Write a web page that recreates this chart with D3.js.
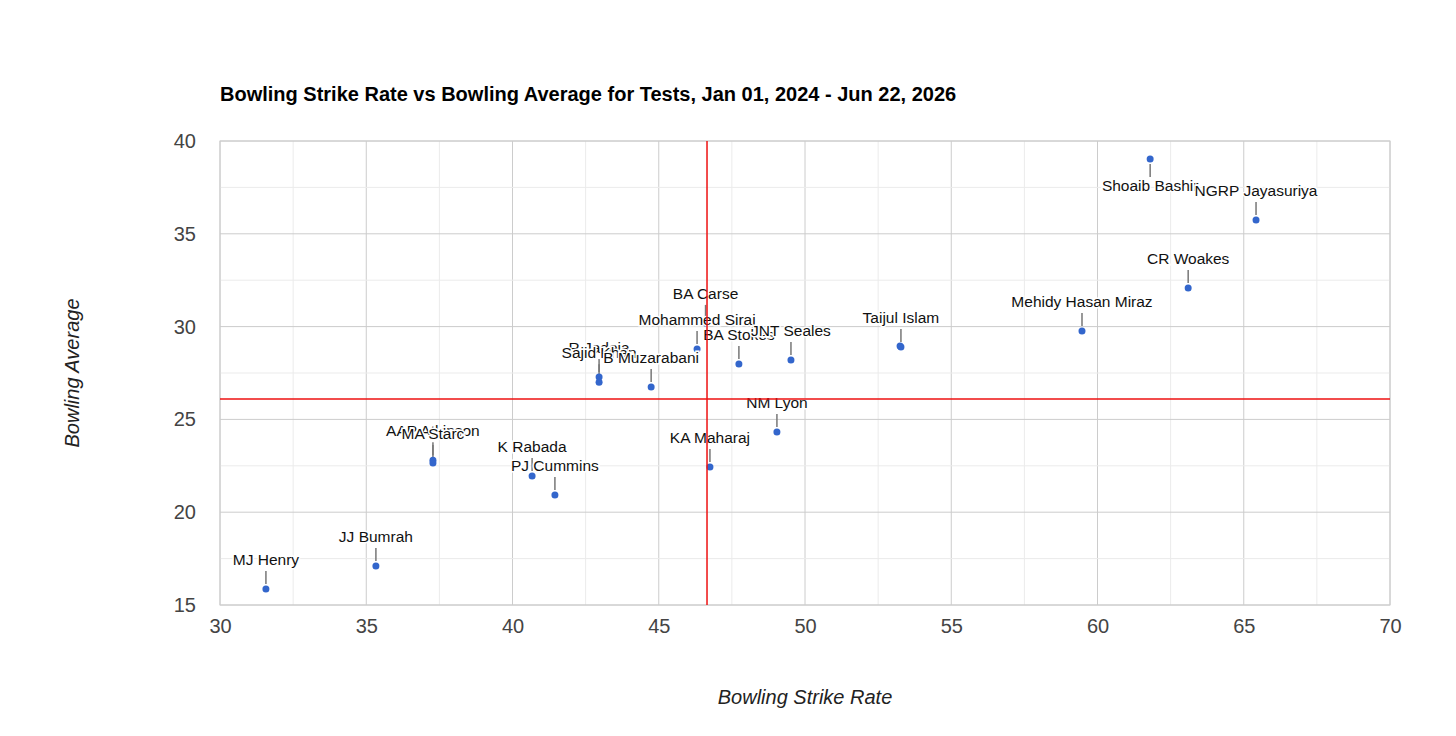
<!DOCTYPE html>
<html><head><meta charset="utf-8">
<script src="https://cdn.jsdelivr.net/npm/d3@7"></script>
<style>body{margin:0;background:#fff;font-family:Arial,"Liberation Sans",sans-serif}</style>
</head><body><svg id="chart" width="1456" height="736"></svg>
<script>
var players = ["MJ Henry","JJ Bumrah","AAP Atkinson","MA Starc","K Rabada","PJ Cummins","R Jadeja","Sajid Khan","B Muzarabani","BA Carse","Mohammed Siraj","BA Stokes","JNT Seales","KA Maharaj","NM Lyon","","Taijul Islam","Mehidy Hasan Miraz","CR Woakes","Shoaib Bashir","NGRP Jayasuriya"];
var strikeRate = [31.57,35.33,37.28,37.28,40.67,41.45,42.96,42.96,44.74,46.6,46.31,47.74,49.52,46.75,49.04,53.25,53.28,59.47,63.1,61.8,65.42];
var average = [15.86,17.1,22.8,22.65,21.95,20.93,27.28,27.0,26.75,30.2,28.79,27.98,28.2,22.43,24.32,28.95,28.9,29.76,32.08,39.03,35.74];
var meanSR = 46.65, meanAvg = 26.1;
var xTicks = [30,35,40,45,50,55,60,65,70];
var yTicks = [15,20,25,30,35,40];
var labelsBelow = ["Shoaib Bashir"];

var margin = {top:141, left:220, right:66, bottom:131};
var svg = d3.select("#chart");
var innerWidth = 1456 - margin.left - margin.right;
var innerHeight = 736 - margin.top - margin.bottom;

var x = d3.scaleLinear().domain([30,70]).range([0, innerWidth]);
var y = d3.scaleLinear().domain([15,40]).range([innerHeight, 0]);
var g = svg.append("g").attr("transform","translate("+margin.left+","+margin.top+")");

// minor grid
var minorX = d3.range(30,70.1,2.5), minorY = d3.range(15,40.1,2.5);
g.selectAll(".mx").data(minorX).enter().append("line")
  .attr("x1",d=>x(d)).attr("x2",d=>x(d)).attr("y1",0).attr("y2",innerHeight)
  .style("stroke", d => d%5==0 ? "#cccccc" : "#ebebeb").style("stroke-width",1);
g.selectAll(".my").data(minorY).enter().append("line")
  .attr("y1",d=>y(d)).attr("y2",d=>y(d)).attr("x1",0).attr("x2",innerWidth)
  .style("stroke", d => d%5==0 ? "#cccccc" : "#ebebeb").style("stroke-width",1);
g.append("rect").attr("width",innerWidth).attr("height",innerHeight)
  .style("fill","none").style("stroke","#cccccc");

g.append("g").attr("transform","translate(0,"+innerHeight+")")
  .call(d3.axisBottom(x).tickValues(xTicks).tickSize(0).tickPadding(14))
  .call(a=>a.select(".domain").remove())
  .selectAll("text").style("font-size","20px").style("fill","#444").style("font-family","Arial,'Liberation Sans'");
g.append("g")
  .call(d3.axisLeft(y).tickValues(yTicks).tickSize(0).tickPadding(24))
  .call(a=>a.select(".domain").remove())
  .selectAll("text").style("font-size","20px").style("fill","#444").style("font-family","Arial,'Liberation Sans'");

var pts = players.map((p,i)=>({name:p, sr:strikeRate[i], avg:average[i], below: labelsBelow.includes(p)}));

// leader lines
g.selectAll(".lead").data(pts.filter(d=>d.name)).enter().append("line")
  .attr("x1",d=>x(d.sr)).attr("x2",d=>x(d.sr))
  .attr("y1",d=>y(d.avg) + (d.below ? 5 : -5)).attr("y2",d=>y(d.avg) + (d.below ? 18 : -18))
  .style("stroke","#777").style("stroke-width",1.5);

g.selectAll(".pt").data(pts).enter().append("circle")
  .attr("cx",d=>x(d.sr)).attr("cy",d=>y(d.avg)).attr("r",3.5)
  .style("fill","#3366cc");

g.selectAll(".lbl").data(pts.filter(d=>d.name)).enter().append("text")
  .attr("x",d=>x(d.sr)).attr("y",d=>y(d.avg) + (d.below ? 32 : -24))
  .attr("text-anchor","middle")
  .style("font-size","15.5px").style("fill","#111")
  .style("stroke","#fff").style("stroke-width",3).style("paint-order","stroke")
  .text(d=>d.name);

// mean lines
g.append("line").attr("x1",x(meanSR)).attr("x2",x(meanSR)).attr("y1",0).attr("y2",innerHeight)
  .style("stroke","#ee1111").style("stroke-width",1.5);
g.append("line").attr("x1",0).attr("x2",innerWidth).attr("y1",y(meanAvg)).attr("y2",y(meanAvg))
  .style("stroke","#ee1111").style("stroke-width",1.5);

svg.append("text").attr("x",220).attr("y",101)
  .style("font-size","20px").style("font-weight","bold").style("fill","#000")
  .text("Bowling Strike Rate vs Bowling Average for Tests, Jan 01, 2024 - Jun 22, 2026");
svg.append("text").attr("x",margin.left+innerWidth/2).attr("y",704)
  .attr("text-anchor","middle").style("font-size","20px").style("font-style","italic").style("fill","#222")
  .text("Bowling Strike Rate");
svg.append("text").attr("transform","translate(79,"+(margin.top+innerHeight/2)+") rotate(-90)")
  .attr("text-anchor","middle").style("font-size","20px").style("font-style","italic").style("fill","#222")
  .text("Bowling Average");
</script></body></html>
